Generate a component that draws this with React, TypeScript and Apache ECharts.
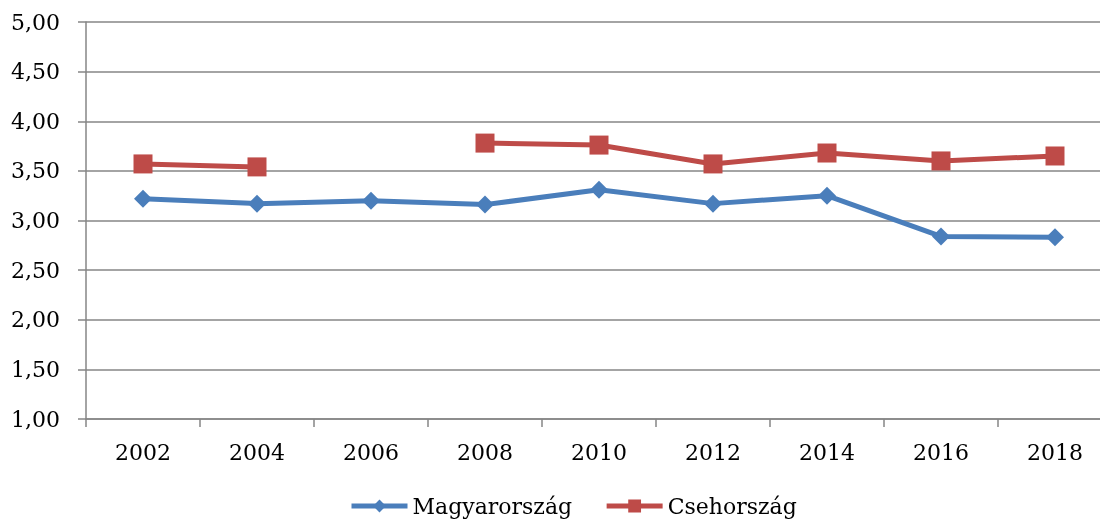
import React, { useEffect, useRef } from "react";
import * as echarts from "echarts";

const years = ["2002", "2004", "2006", "2008", "2010", "2012", "2014", "2016", "2018"];
const hungary = [3.22, 3.17, 3.2, 3.16, 3.31, 3.17, 3.25, 2.84, 2.83];
const czech: (number | null)[] = [3.57, 3.54, null, 3.78, 3.76, 3.57, 3.68, 3.6, 3.65];
const seriesNames = ["Magyarország", "Csehország"];

const FONT = "DejaVu Serif";

export default function App() {
  const ref = useRef<HTMLDivElement>(null);
  useEffect(() => {
    if (!ref.current) return;
    const chart = echarts.init(ref.current, null, { renderer: "svg" });
    chart.setOption({
      animation: false,
      textStyle: { fontFamily: FONT },
      grid: { left: 86, width: 1026, top: 22, bottom: 100, outerBoundsMode: "none" },
      legend: {
        left: 344,
        top: 490,
        itemWidth: 56,
        itemHeight: 16,
        itemGap: 32,
        lineStyle: { width: 5 },
        textStyle: { fontFamily: FONT, fontSize: 22, color: "#000" },
        data: seriesNames,
      },
      xAxis: {
        type: "category",
        data: years,
        boundaryGap: true,
        axisLine: { lineStyle: { color: "#868686", width: 1.5 } },
        axisTick: { show: true, length: 8, lineStyle: { color: "#868686", width: 1.5 } },
        axisLabel: { fontFamily: FONT, fontSize: 22, color: "#000", margin: 22 },
      },
      yAxis: {
        type: "value",
        min: 1,
        max: 5,
        interval: 0.5,
        axisLine: { show: true, lineStyle: { color: "#868686", width: 1.5 } },
        axisTick: { show: true, length: 8, lineStyle: { color: "#868686", width: 1.5 } },
        splitLine: { lineStyle: { color: "#868686", width: 1.5 } },
        axisLabel: {
          fontFamily: FONT,
          fontSize: 22,
          color: "#000",
          margin: 26,
          formatter: (v: number) => v.toFixed(2).replace(".", ","),
        },
      },
      series: [
        {
          name: seriesNames[0],
          type: "line",
          data: hungary,
          symbol: "diamond",
          symbolSize: 18,
          lineStyle: { color: "#4A7EBB", width: 5 },
          itemStyle: { color: "#4A7EBB" },
        },
        {
          name: seriesNames[1],
          type: "line",
          data: czech,
          connectNulls: false,
          symbol: "rect",
          symbolSize: 19,
          lineStyle: { color: "#BE4B48", width: 5 },
          itemStyle: { color: "#BE4B48" },
        },
      ],
    });
    return () => chart.dispose();
  }, []);
  return (
    <div
      ref={ref}
      style={{ position: "fixed", left: 0, top: 0, width: 1100, height: 519, overflow: "hidden" }}
    />
  );
}
